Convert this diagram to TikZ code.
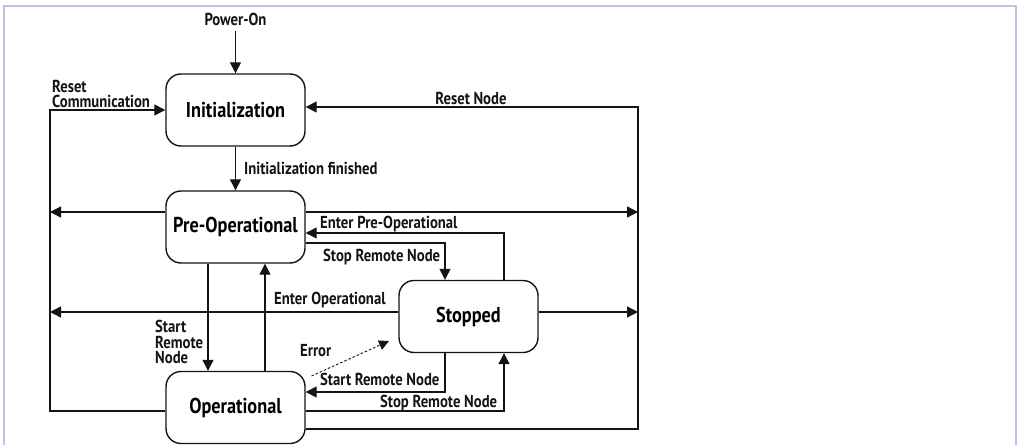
\documentclass[tikz,border=0pt]{standalone}
\usepackage{fontspec}
\setmainfont{PT Sans}[FakeStretch=0.85]
\usetikzlibrary{arrows.meta}
\definecolor{framec}{RGB}{185,195,228}
\definecolor{ink}{RGB}{20,20,20}
\begin{document}
\begin{tikzpicture}[x=1pt,y=-1pt,
  state/.style={draw=ink, line width=1.4pt, rounded corners=15pt, minimum width=139pt, minimum height=72pt, font=\fontsize{21.5}{25}\selectfont\bfseries, inner sep=0pt},
  lbl/.style={font=\fontsize{17.3}{15.5}\selectfont\bfseries, inner sep=0pt, text=ink},
  conn/.style={draw=ink, line width=1.3pt, -{Triangle[length=11pt,width=11pt]}},
  errline/.style={draw=ink, line width=0.9pt, dash pattern=on 2.5pt off 2pt, -{Triangle[length=10pt,width=10pt]}}]
\useasboundingbox (0,0) rectangle (1019,444);
\draw[framec, line width=2pt] (4,460) -- (4,6) -- (1016,6) -- (1016,460);

% states
\node[state] (init) at (235.5,110) {Initialization};
\node[state] (preop) at (235.5,227) {Pre-Operational};
\node[state] (oper) at (235.5,407.5) {Operational};
\node[state] (stop) at (468.5,316.5) {Stopped};

% labels
\node[lbl, anchor=base] (pwr) at (235.5,25.7) {Power-On};
\node[lbl, anchor=north west, align=left] (lrc) at (52,80) {Reset\\Communication};
\node[lbl, anchor=base] (lrn) at (471,104) {Reset Node};
\node[lbl, anchor=base west] (lif) at (244,174) {Initialization finished};
\node[lbl, anchor=base west] (lep) at (320,228) {Enter Pre-Operational};
\node[lbl, anchor=base west] (lsr1) at (323,261) {Stop Remote Node};
\node[lbl, anchor=base west] (leo) at (274,304) {Enter Operational};
\node[lbl, anchor=north west, align=left] (lsrn) at (155,320) {Start\\Remote\\Node};
\node[lbl, anchor=base west] (lerr) at (300,356) {Error};
\node[lbl, anchor=base west] (lsr2) at (320,385.5) {Start Remote Node};
\node[lbl, anchor=base west] (lsp2) at (380,407) {Stop Remote Node};

% routing coordinates
\coordinate (rcTop) at (50,110);
\coordinate (rcBot) at (50,411);
\coordinate (rnTop) at (638,107);
\coordinate (rnBot) at (638,429);
\coordinate (plL) at (50,212);
\coordinate (plR) at (638,212);
\coordinate (slL) at (50,312);
\coordinate (slR) at (638,312);
\coordinate (epC) at (504,233);
\coordinate (srC) at (445,243);
\coordinate (sbC) at (445,392);
\coordinate (stC) at (504,411);
\coordinate (xA) at (208,0);
\coordinate (xB) at (265,0);
\coordinate (errA) at (311.5,376);
\coordinate (errB) at (389,341);

% connectors
\draw[conn, shorten <=5pt] (pwr.south) -- (init.north);
\draw[conn] (init.south) -- (preop.north);
\draw[conn] (oper.west |- rcBot) -- (rcBot) -- (rcTop) -- (init.west |- rcTop);
\draw[conn] (oper.east |- rnBot) -- (rnBot) -- (rnTop) -- (init.east |- rnTop);
\draw[conn] (preop.west |- plL) -- (plL);
\draw[conn] (preop.east |- plR) -- (plR);
\draw[conn] (stop.west |- slL) -- (slL);
\draw[conn] (stop.east |- slR) -- (slR);
\draw[conn] (stop.north -| epC) -- (epC) -- (preop.east |- epC);
\draw[conn] (preop.east |- srC) -- (srC) -- (stop.north -| srC);
\draw[conn] (preop.south -| xA) -- (oper.north -| xA);
\draw[conn] (oper.north -| xB) -- (preop.south -| xB);
\draw[conn] (stop.south -| sbC) -- (sbC) -- (oper.east |- sbC);
\draw[conn] (oper.east |- stC) -- (stC) -- (stop.south -| stC);
\draw[errline] (errA) -- (errB);
\end{tikzpicture}
\end{document}
